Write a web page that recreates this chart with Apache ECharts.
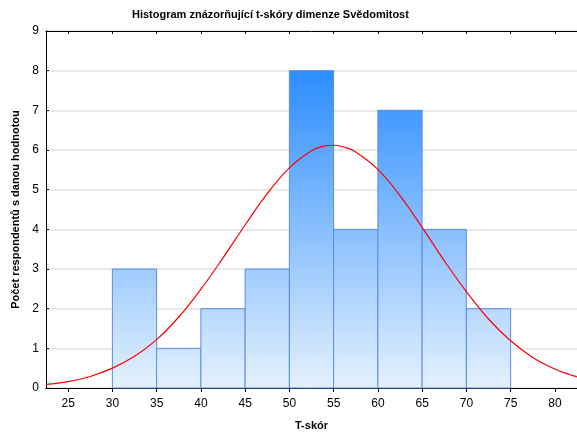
<!DOCTYPE html>
<html>
<head>
<meta charset="utf-8">
<script src="https://cdn.jsdelivr.net/npm/echarts@6/dist/echarts.min.js"></script>
<style>
  html, body { margin: 0; padding: 0; background: #fff; }
  #chart { width: 577px; height: 436px; }
</style>
</head>
<body>
<div id="chart"></div>
<script>
// histogram bins (T-skór) and counts
const binStart = [30, 35, 40, 45, 50, 55, 60, 65, 70];
const binEnd = [35, 40, 45, 50, 55, 60, 65, 70, 75];
const counts = [3, 1, 2, 3, 8, 4, 7, 4, 2];

// fitted normal curve
const curveX = [22.5, 25, 27.5, 30, 32.5, 35, 37.5, 40, 42.5, 45, 47.5, 50, 52.5, 53.75, 55,
  56.25, 57.5, 60, 62.5, 65, 67.5, 70, 72.5, 75, 77.5, 80, 82.5];
const curveY = [0.09, 0.16, 0.29, 0.5, 0.8, 1.22, 1.79, 2.49, 3.28, 4.11, 4.9, 5.55, 5.98, 6.09, 6.12,
  6.07, 5.95, 5.51, 4.85, 4.05, 3.21, 2.43, 1.74, 1.19, 0.77, 0.48, 0.28];

const xTicks = [25, 30, 35, 40, 45, 50, 55, 60, 65, 70, 75, 80];

const font = "'Liberation Sans', Arial, sans-serif";
const chart = echarts.init(document.getElementById('chart'));

// gradient tied to the plot area, dark at 9 and pale at 0
const barFill = new echarts.graphic.LinearGradient(0, 31, 0, 390, [
  {offset: 0, color: '#1581ff'},
  {offset: 1, color: '#e6f1fd'}
], true);

chart.setOption({
  animation: false,
  textStyle: {fontFamily: font},
  title: {
    text: 'Histogram znázorňující t-skóry dimenze Svědomitost',
    left: 132,
    top: 9,
    padding: 0,
    textStyle: {fontSize: 11, fontWeight: 'bold', color: '#000', fontFamily: font}
  },
  grid: {left: 46, top: 31, width: 534, height: 359},
  xAxis: [
    {
      type: 'value',
      min: 22.5,
      max: 82.5,
      name: 'T-skór',
      nameLocation: 'middle',
      nameGap: 32,
      nameTextStyle: {fontSize: 11, fontWeight: 'bold', color: '#000', fontFamily: font},
      axisLine: {show: true, lineStyle: {color: '#000', width: 1}},
      axisTick: {show: true, length: 4, customValues: xTicks, lineStyle: {color: '#000'}},
      axisLabel: {customValues: xTicks, fontSize: 12, color: '#000', margin: 10, fontFamily: font},
      splitLine: {show: false}
    },
    {
      type: 'value',
      position: 'top',
      min: 22.5,
      max: 82.5,
      axisLine: {show: true, lineStyle: {color: '#000', width: 1}},
      axisTick: {show: true, inside: true, length: 3, customValues: xTicks, lineStyle: {color: '#000'}},
      axisLabel: {show: false},
      splitLine: {show: false}
    }
  ],
  yAxis: {
    type: 'value',
    min: 0,
    max: 9,
    interval: 1,
    name: 'Počet respondentů s danou hodnotou',
    nameLocation: 'middle',
    nameGap: 19,
    nameTextStyle: {fontSize: 11, fontWeight: 'bold', color: '#000', fontFamily: font},
    axisLine: {show: true, lineStyle: {color: '#000', width: 1}},
    axisTick: {show: true, inside: true, length: 3, lineStyle: {color: '#000'}},
    axisLabel: {fontSize: 12, color: '#000', margin: 7, fontFamily: font},
    splitLine: {show: true, lineStyle: {color: '#e2e2e2', width: 1.5}}
  },
  series: [
    {
      type: 'custom',
      xAxisIndex: 0,
      encode: {x: [0, 1], y: 2},
      data: binStart.map((s, i) => [s, binEnd[i], counts[i]]),
      renderItem: function (params, api) {
        const p0 = api.coord([api.value(0), api.value(2)]);
        const p1 = api.coord([api.value(1), 0]);
        return {
          type: 'rect',
          shape: {x: p0[0], y: p0[1], width: p1[0] - p0[0], height: p1[1] - p0[1]},
          style: {fill: barFill, stroke: '#5b8de0', lineWidth: 1}
        };
      },
      z: 2
    },
    {
      type: 'line',
      xAxisIndex: 0,
      smooth: 0.4,
      showSymbol: false,
      data: curveX.map((x, i) => [x, curveY[i]]),
      lineStyle: {color: '#ff0000', width: 1.2},
      z: 3
    }
  ]
});
</script>
</body>
</html>
